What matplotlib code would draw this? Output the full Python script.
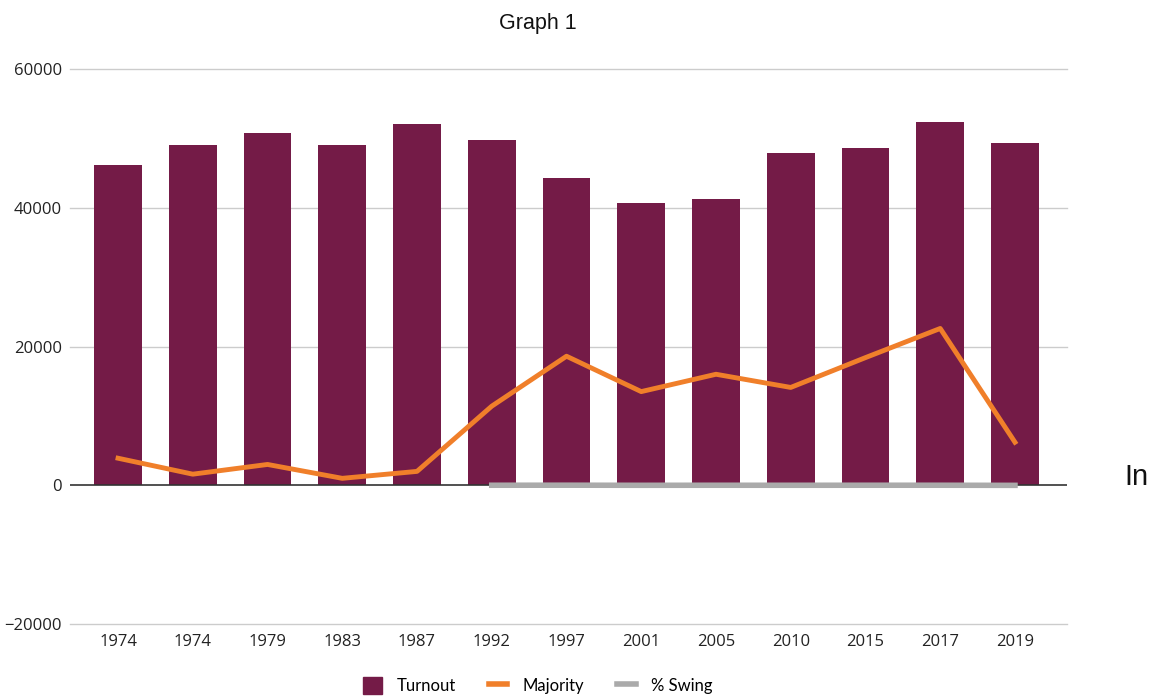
import matplotlib.pyplot as plt
from matplotlib.lines import Line2D
from matplotlib.patches import Patch

years = ['1974', '1974', '1979', '1983', '1987', '1992', '1997',
         '2001', '2005', '2010', '2015', '2017', '2019']
turnout = [46100, 49100, 50800, 49100, 52100, 49800, 44300,
           40700, 41300, 47900, 48600, 52400, 49400]
majority = [3900, 1600, 3000, 1000, 2000, 11400, 18600,
            13500, 16000, 14100, 18400, 22600, 6200]
swing = [None, None, None, None, None, 2.5, 10.0,
         -4.5, 2.0, -1.5, 3.5, 4.0, -12.0]

bar_color = '#741b47'
line_color = '#f07f2a'
swing_color = '#aaaaaa'

fig = plt.figure(figsize=(11.54, 6.96), dpi=100)
ax = fig.add_axes([0.0607, 0.1034, 0.8639, 0.7975])

x = list(range(len(years)))
ax.bar(x, turnout, width=0.64, color=bar_color, zorder=2)
ax.plot(x, majority, color=line_color, linewidth=3.5, zorder=3)
sx = [i for i, v in zip(x, swing) if v is not None]
sv = [v for v in swing if v is not None]
ax.plot(sx, sv, color=swing_color, linewidth=4, zorder=3)

ax.set_ylim(-20000, 60000)
ax.set_xlim(-0.642, 12.696)
ax.set_yticks([-20000, 0, 20000, 40000, 60000])
ax.set_xticks(x)
ax.set_xticklabels(years)
for yv in [-20000, 20000, 40000, 60000]:
    ax.axhline(yv, color='#cccccc', linewidth=1, zorder=0, clip_on=False)
ax.axhline(0, color='#333333', linewidth=1.2, zorder=2.5)

for s in ax.spines.values():
    s.set_visible(False)
ax.tick_params(length=0, labelsize=12, colors='#222222')
ax.tick_params(axis='y', pad=6)
ax.tick_params(axis='x', pad=7)
for lbl in ax.get_xticklabels() + ax.get_yticklabels():
    lbl.set_family('Open Sans')

fig.text(0.466, 0.966, 'Graph 1', ha='center', va='center',
         fontsize=15.5, family='Liberation Sans', color='#111111')
fig.text(0.974, 0.315, 'In', ha='left', va='center',
         fontsize=21, family='Liberation Sans', color='#111111')

handles = [Patch(color=bar_color),
           Line2D([], [], color=line_color, linewidth=4),
           Line2D([], [], color=swing_color, linewidth=4)]
fig.legend(handles, ['Turnout', 'Majority', '% Swing'], loc='center',
           bbox_to_anchor=(0.466, 0.015), ncol=3, frameon=False,
           prop={'family': 'Lato', 'size': 12}, handlelength=1.1,
           handleheight=1.2, columnspacing=2.0, handletextpad=0.9)

fig.savefig('out.png', dpi=100)
